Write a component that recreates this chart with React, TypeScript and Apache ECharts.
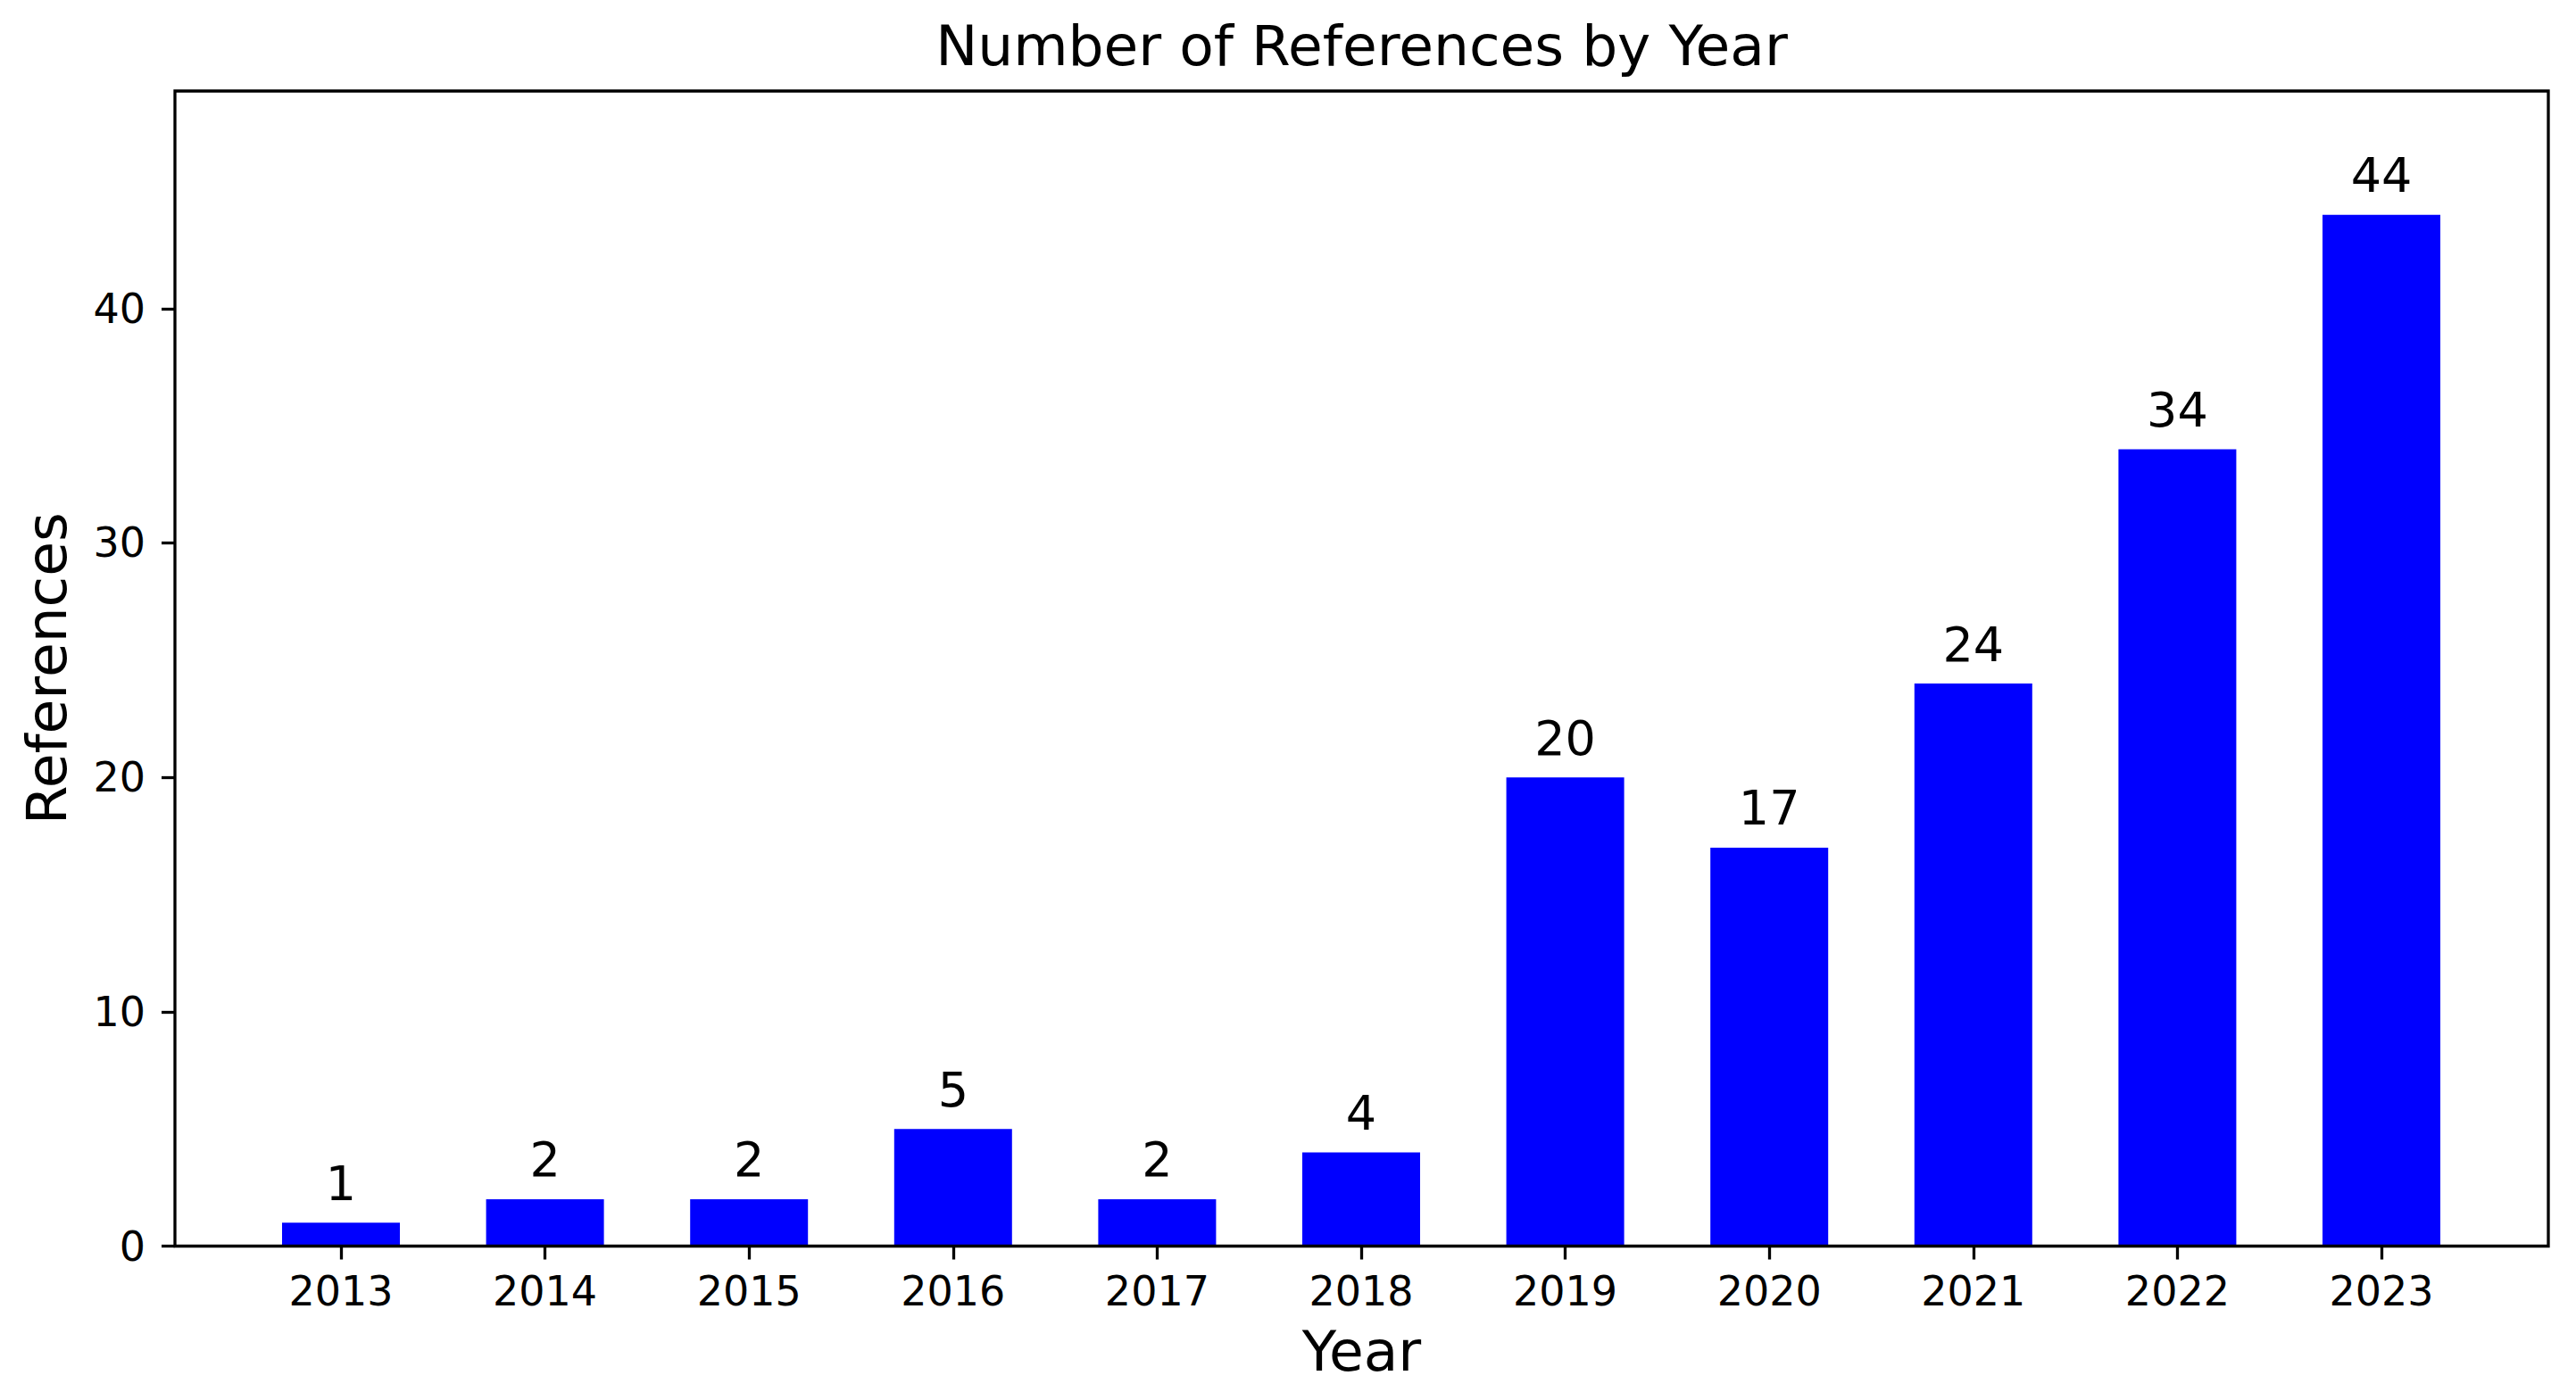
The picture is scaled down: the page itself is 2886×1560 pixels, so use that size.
import React, { useEffect, useRef } from "react";
import * as echarts from "echarts";

const years: string[] = ["2013", "2014", "2015", "2016", "2017", "2018", "2019", "2020", "2021", "2022", "2023"];
const counts: number[] = [1, 2, 2, 5, 2, 4, 20, 17, 24, 34, 44];
const yTicks: number[] = [0, 10, 20, 30, 40];

const titleText = "Number of References by Year";
const xLabelText = "Year";
const yLabelText = "References";

const FONT = "DejaVu Sans";

export default function App() {
  const ref = useRef<HTMLDivElement>(null);
  useEffect(() => {
    if (!ref.current) return;
    const chart = echarts.init(ref.current, undefined, { renderer: "svg" });
    const frameL = 196, frameT = 102, frameR = 2855, frameB = 1396.5;
    const gridL = 267.7, gridR = 2782.3;
    const yMax = Math.max(...counts) * 1.12;
    chart.setOption({
      animation: false,
      backgroundColor: "#ffffff",
      grid: {
        left: gridL,
        top: frameT,
        width: gridR - gridL,
        height: frameB - frameT,
        containLabel: false,
      },
      xAxis: {
        type: "category",
        data: years,
        boundaryGap: true,
        axisLine: { show: false },
        axisTick: { show: true, alignWithLabel: true, length: 15, lineStyle: { color: "#000", width: 3.3 } },
        axisLabel: { color: "#000", fontFamily: FONT, fontSize: 46, margin: 27 },
        splitLine: { show: false },
      },
      yAxis: {
        type: "value",
        min: 0,
        max: yMax,
        interval: 10,
        offset: gridL - frameL,
        axisLine: { show: false },
        axisTick: {
          show: true,
          length: 15,
          customValues: yTicks,
          lineStyle: { color: "#000", width: 3.3 },
        },
        axisLabel: {
          color: "#000",
          fontFamily: FONT,
          fontSize: 46,
          margin: 33,
          customValues: yTicks,
        },
        splitLine: { show: false },
      },
      series: [
        {
          type: "bar",
          data: counts,
          barWidth: 132,
          itemStyle: { color: "#0000ff" },
          label: {
            show: true,
            position: "top",
            distance: 17,
            color: "#000",
            fontFamily: FONT,
            fontSize: 54,
          },
        },
      ],
      graphic: [
        {
          type: "rect",
          z: 100,
          shape: { x: frameL, y: frameT, width: frameR - frameL, height: frameB - frameT },
          style: { fill: "none", stroke: "#000", lineWidth: 3.3 },
          silent: true,
        },
        {
          type: "text",
          x: (frameL + frameR) / 2,
          y: 51.5,
          style: {
            text: titleText,
            fill: "#000",
            font: `63px "${FONT}"`,
            align: "center",
            verticalAlign: "middle",
          },
        },
        {
          type: "text",
          x: (frameL + frameR) / 2,
          y: 1514.5,
          style: {
            text: xLabelText,
            fill: "#000",
            font: `63px "${FONT}"`,
            align: "center",
            verticalAlign: "middle",
          },
        },
        {
          type: "text",
          x: 52.5,
          y: (frameT + frameB) / 2,
          rotation: Math.PI / 2,
          style: {
            text: yLabelText,
            fill: "#000",
            font: `63px "${FONT}"`,
            align: "center",
            verticalAlign: "middle",
          },
        },
      ],
    });
    return () => chart.dispose();
  }, []);
  return (
    <div
      ref={ref}
      style={{ position: "fixed", left: 0, top: 0, width: 2886, height: 1560, background: "#fff" }}
    />
  );
}
